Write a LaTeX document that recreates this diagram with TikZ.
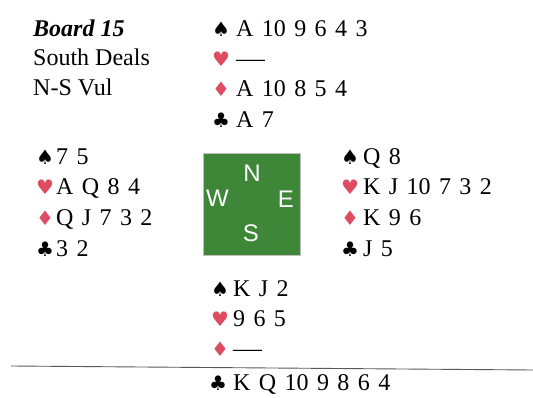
\documentclass[tikz,border=0pt]{standalone}
\usepackage{fontspec}
\usepackage{graphicx}
\setmainfont{Liberation Serif}
\newfontfamily\cardfamily[WordSpace={1.4,0,0}]{Liberation Serif}
\newfontfamily\suitfont{DejaVu Sans}
\newfontfamily\compassfont{Liberation Sans}
\definecolor{suitred}{RGB}{222,76,98}
\definecolor{feltgreen}{RGB}{62,135,56}
\newcommand{\Sp}{{\suitfont\fontsize{20}{20}\selectfont ♠}}
\newcommand{\He}{{\suitfont\fontsize{20}{20}\selectfont\color{suitred}♥}}
\newcommand{\Di}{{\suitfont\fontsize{20}{20}\selectfont\color{suitred}♦}}
\newcommand{\Cl}{{\suitfont\fontsize{20}{20}\selectfont ♣}}
\newcommand{\Void}{\scalebox{1.2}[1]{—}}
\begin{document}
\begin{tikzpicture}[x=1pt,y=-1pt,
  cardline/.style={anchor=base west,inner sep=0pt,font=\cardfamily\fontsize{24}{24}\selectfont},
  infotext/.style={anchor=base west,inner sep=0pt,font=\fontsize{24}{24}\selectfont},
  compass/.style={inner sep=0pt,text=white,font=\compassfont\fontsize{24}{24}\selectfont}]
\useasboundingbox (0,0) rectangle (533,398);
% info
\node[infotext,font=\fontsize{24}{24}\selectfont\bfseries\itshape] (board) at (33,37) {Board 15};
\node[infotext] (dealer) at (33,66) {South Deals};
\node[infotext] (vul) at (33,96) {N-S Vul};
% North
\node[cardline] (ns) at (212,37) {\makebox[24pt][l]{\Sp}A 10 9 6 4 3};
\node[cardline] (nh) at (212,67) {\makebox[24pt][l]{\He}\Void};
\node[cardline] (nd) at (212,97) {\makebox[24pt][l]{\Di}A 10 8 5 4};
\node[cardline] (nc) at (212,128) {\makebox[24pt][l]{\Cl}A 7};
% West
\node[cardline] (ws) at (36,165) {\makebox[20pt][l]{\Sp}7 5};
\node[cardline] (wh) at (36,195) {\makebox[20pt][l]{\He}A Q 8 4};
\node[cardline] (wd) at (36,226) {\makebox[20pt][l]{\Di}Q J 7 3 2};
\node[cardline] (wc) at (36,257) {\makebox[20pt][l]{\Cl}3 2};
% East
\node[cardline] (es) at (341,165) {\makebox[22pt][l]{\Sp}Q 8};
\node[cardline] (eh) at (341,195) {\makebox[22pt][l]{\He}K J 10 7 3 2};
\node[cardline] (ed) at (341,226) {\makebox[22pt][l]{\Di}K 9 6};
\node[cardline] (ec) at (341,257) {\makebox[22pt][l]{\Cl}J 5};
% South
\node[cardline] (ss) at (211,296) {\makebox[22pt][l]{\Sp}K J 2};
\node[cardline] (sh) at (211,326) {\makebox[22pt][l]{\He}9 6 5};
\node[cardline] (sd) at (211,356) {\makebox[22pt][l]{\Di}\Void};
\node[cardline] (sc) at (209,390) {\makebox[24pt][l]{\Cl}K Q 10 9 8 6 4};
% compass table
\node[draw=black!25,line width=0.6pt,fill=feltgreen,minimum width=97pt,minimum height=102pt,inner sep=0pt] (table) at (251.5,204) {};
\node[compass,anchor=base] (cn) at (252,182) {N};
\node[compass,anchor=base west] (cw) at (206,207) {W};
\node[compass,anchor=base east] (ce) at (294,208) {E};
\node[compass,anchor=base] (cs) at (251,242) {S};
% rule
\coordinate (rl) at (11,366);
\coordinate (rr) at (533,370);
\draw[black!65,line width=0.9pt] (rl) -- (rr);
\end{tikzpicture}
\end{document}
